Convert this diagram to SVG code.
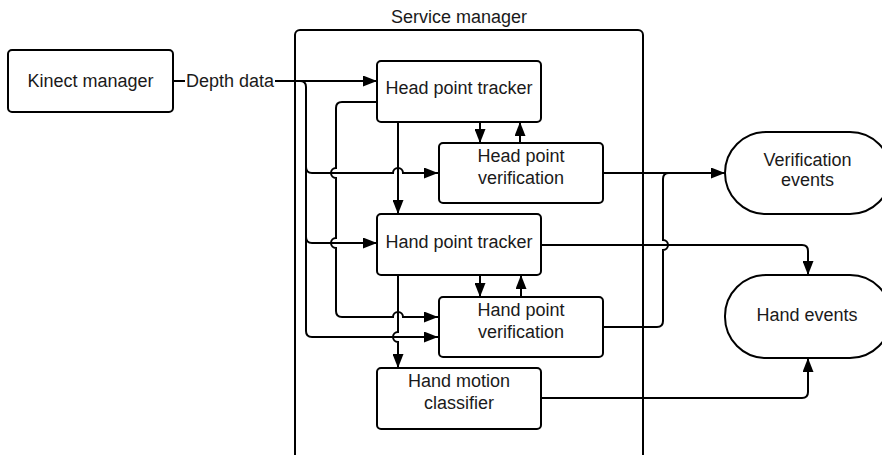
<svg xmlns="http://www.w3.org/2000/svg" width="882" height="455" viewBox="0 0 882 455">
  <style>
    .box { fill: #fff; stroke: #000; stroke-width: 2; }
    .frame { fill: none; stroke: #000; stroke-width: 2; }
    .lbl { font-family: "Liberation Sans", Arial, sans-serif; font-size: 18px; fill: #1a1a1a; text-anchor: middle; }
    .wire { fill: none; stroke: #000; stroke-width: 2; }
    .arr { marker-end: url(#head); }
  </style>
  <defs>
    <marker id="head" markerUnits="userSpaceOnUse" markerWidth="14" markerHeight="11" refX="14" refY="5.5" orient="auto">
      <path d="M0,0 L14,5.5 L0,11 z" fill="#000"/>
    </marker>
  </defs>

  <rect width="882" height="455" fill="#fff"/>

  <!-- container -->
  <g id="service-manager">
    <rect class="frame" x="295" y="30" width="348" height="460" rx="5"/>
    <text class="lbl" x="459" y="23">Service manager</text>
  </g>

  <!-- connectors -->
  <g id="connectors">
    <!-- depth data feed -->
    <path class="wire" d="M173,81 H185"/>
    <path class="wire arr" d="M275,81 H377"/>
    <text class="lbl" x="230" y="87">Depth data</text>
    <path class="wire arr" d="M300,81 Q306,81 306,87 V331 Q306,337 312,337 H438"/>
    <path class="wire arr" d="M306,167 Q306,173 312,173 H393 a5,5 0 0 1 10,0 H438"/>
    <path class="wire arr" d="M306,237 Q306,243 312,243 H377"/>
    <!-- head tracker to hand verification -->
    <path class="wire arr" d="M377,102 H342 Q336,102 336,108 V168 a5,5 0 0 0 0,10 V238 a5,5 0 0 0 0,10 V311 Q336,317 342,317 H393 a5,5 0 0 1 10,0 H438"/>
    <!-- tracker chain -->
    <path class="wire arr" d="M398,122 V214"/>
    <path class="wire arr" d="M398,275 V332 a5,5 0 0 0 0,10 V368"/>
    <!-- tracker / verification loops -->
    <path class="wire arr" d="M480,122 V143"/>
    <path class="wire arr" d="M520,143 V122"/>
    <path class="wire arr" d="M480,275 V297"/>
    <path class="wire arr" d="M521,297 V275"/>
    <!-- outputs -->
    <path class="wire arr" d="M603,173 H725"/>
    <path class="wire" d="M603,327 H657 Q663,327 663,321 V250 a5,5 0 0 0 0,-10 V179 Q663,173 669,173"/>
    <path class="wire arr" d="M541,245 H802 Q808,245 808,251 V275"/>
    <path class="wire arr" d="M541,398 H802 Q808,398 808,392 V358"/>
  </g>

  <g id="kinect-manager">
    <rect class="box" x="8" y="50" width="165" height="62" rx="4"/>
    <text class="lbl" x="90.5" y="87">Kinect manager</text>
  </g>

  <g id="head-point-tracker">
    <rect class="box" x="377" y="61" width="164" height="61" rx="4"/>
    <text class="lbl" x="459" y="94">Head point tracker</text>
  </g>

  <g id="head-point-verification">
    <rect class="box" x="439" y="143" width="164" height="60" rx="4"/>
    <text class="lbl" x="521" y="162">Head point</text>
    <text class="lbl" x="521" y="184">verification</text>
  </g>

  <g id="hand-point-tracker">
    <rect class="box" x="377" y="214" width="164" height="61" rx="4"/>
    <text class="lbl" x="459" y="248">Hand point tracker</text>
  </g>

  <g id="hand-point-verification">
    <rect class="box" x="439" y="297" width="164" height="60" rx="4"/>
    <text class="lbl" x="521" y="316">Hand point</text>
    <text class="lbl" x="521" y="338">verification</text>
  </g>

  <g id="hand-motion-classifier">
    <rect class="box" x="377" y="368" width="164" height="61" rx="4"/>
    <text class="lbl" x="459" y="387">Hand motion</text>
    <text class="lbl" x="459" y="409">classifier</text>
  </g>

  <g id="verification-events">
    <rect class="box" x="725" y="132" width="166" height="82" rx="41"/>
    <text class="lbl" x="807.5" y="166">Verification</text>
    <text class="lbl" x="807.5" y="186">events</text>
  </g>

  <g id="hand-events">
    <rect class="box" x="725" y="275" width="166" height="83" rx="41"/>
    <text class="lbl" x="807" y="321">Hand events</text>
  </g>
</svg>
